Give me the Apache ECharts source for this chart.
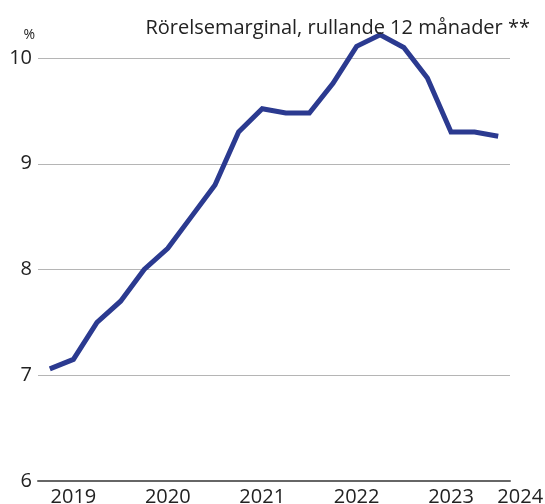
<!DOCTYPE html>
<html>
<head>
<meta charset="utf-8">
<script src="https://cdn.jsdelivr.net/npm/echarts@6/dist/echarts.min.js"></script>
<style>
  html, body { margin: 0; padding: 0; background: #fff; }
  #chart { width: 545px; height: 504px; }
</style>
</head>
<body>
<div id="chart"></div>
<script>
// quarters
var quarters = ['2018 K4', '2019 K1', '2019 K2', '2019 K3', '2019 K4',
                '2020 K1', '2020 K2', '2020 K3', '2020 K4',
                '2021 K1', '2021 K2', '2021 K3', '2021 K4',
                '2022 K1', '2022 K2', '2022 K3', '2022 K4',
                '2023 K1', '2023 K2', '2023 K3'];
var margin = [7.06, 7.15, 7.50, 7.70, 8.00, 8.20, 8.50, 8.80, 9.30, 9.52,
              9.48, 9.48, 9.76, 10.11, 10.22, 10.10, 9.81, 9.30, 9.30, 9.26];
// which category carries which year label
var yearLabels = { 1: '2019', 5: '2020', 9: '2021', 13: '2022', 17: '2023', 19: '2024' };
var yTicks = [6, 7, 8, 9, 10];

var chart = echarts.init(document.getElementById('chart'));
var font = '"Open Sans", "Noto Sans", sans-serif';

chart.setOption({
  animation: false,
  title: {
    text: 'Rörelsemarginal, rullande 12 månader **',
    right: 10, top: 13,
    textStyle: { fontFamily: font, fontSize: 20, fontWeight: 'normal', color: '#222' }
  },
  grid: { left: 38, right: 35, top: 58, bottom: 23, outerBoundsMode: 'none' },
  xAxis: {
    type: 'category',
    data: quarters,
    boundaryGap: true,
    axisLine: { show: true, lineStyle: { color: '#666', width: 2 } },
    axisTick: { show: false },
    axisLabel: {
      interval: 0,
      margin: 6,
      fontFamily: font, fontSize: 20, color: '#222',
      formatter: function (val, idx) {
        var y = yearLabels[idx];
        if (!y) return '';
        return idx === 19 ? '{end|' + y + '}' : y;
      },
      rich: { end: { fontFamily: font, fontSize: 20, color: '#222', padding: [0, 0, 0, 44] } }
    }
  },
  yAxis: {
    type: 'value',
    min: yTicks[0], max: yTicks[yTicks.length - 1], interval: 1,
    name: '%',
    nameLocation: 'end',
    nameGap: 16,
    nameTextStyle: { fontFamily: font, fontSize: 14, color: '#222', align: 'right', padding: [0, 3, 0, 0] },
    axisLine: { show: false },
    axisTick: { show: false },
    axisLabel: { margin: 6, fontFamily: font, fontSize: 20, color: '#222' },
    splitLine: { lineStyle: { color: '#b5b5b5', width: 1 } }
  },
  series: [{
    type: 'line',
    data: margin,
    clip: false,
    symbol: 'none',
    lineStyle: { color: '#2b3a90', width: 5, join: 'miter' }
  }]
});
</script>
</body>
</html>
